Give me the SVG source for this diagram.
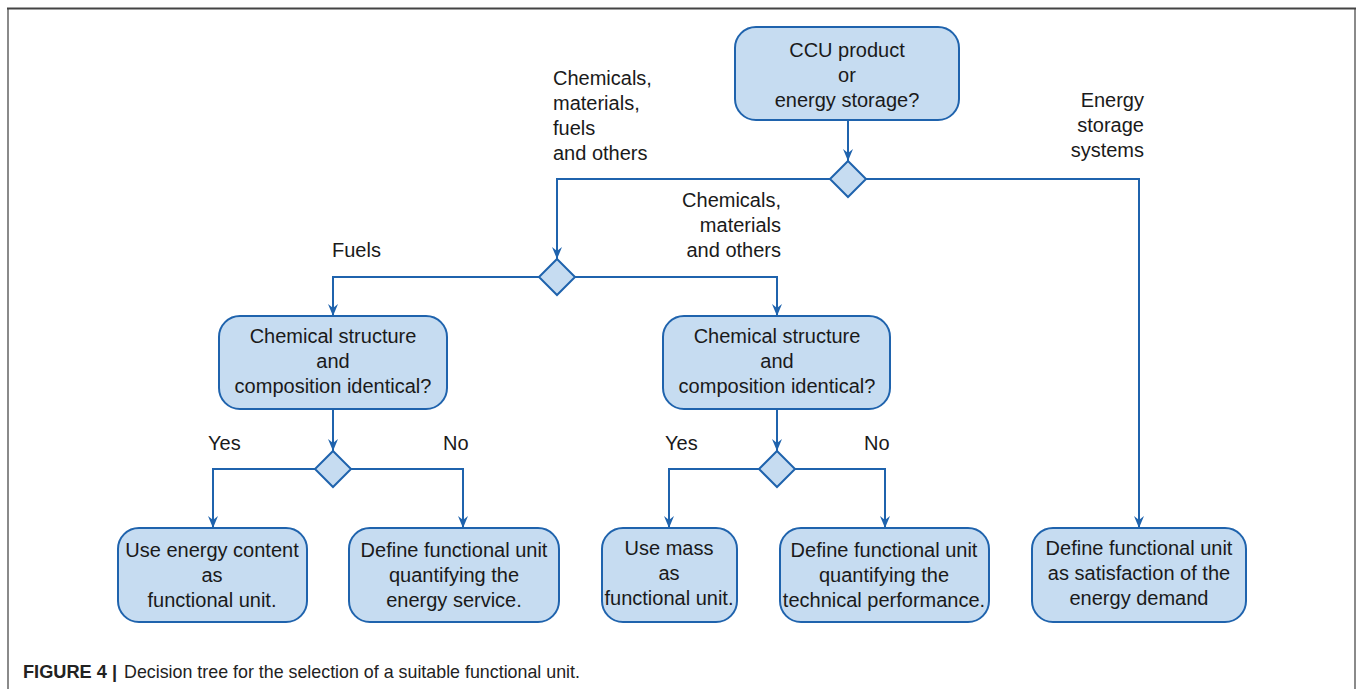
<svg xmlns="http://www.w3.org/2000/svg" width="1358" height="689" viewBox="0 0 1358 689">
<style>
.node{fill:#c6dcf1;stroke:#1f63ad;stroke-width:2}
.dia{fill:#c6dcf1;stroke:#1f63ad;stroke-width:2}
.t{font-family:"Liberation Sans",Arial,sans-serif;font-size:20px;fill:#1a1a1a;text-anchor:middle}
.l{font-family:"Liberation Sans",Arial,sans-serif;font-size:20px;fill:#1a1a1a}
.e{text-anchor:end}
.conn path{fill:none;stroke:#1f63ad;stroke-width:2;marker-end:url(#ah)}
.cap{font-family:"Liberation Sans",Arial,sans-serif;font-size:19px;fill:#222}
</style>
<defs>
<marker id="ah" viewBox="0 0 12 10" refX="12" refY="5" markerWidth="12" markerHeight="10" markerUnits="userSpaceOnUse" orient="auto">
<path d="M0,0 L12,5 L0,10 L4,5 z" fill="#1f63ad"/>
</marker>
</defs>
<rect x="0" y="0" width="1358" height="689" fill="#ffffff"/>
<g id="frame">
<line x1="8" y1="9" x2="8" y2="689" stroke="#8a8a8a" stroke-width="2"/>
<line x1="1355" y1="9" x2="1355" y2="689" stroke="#8a8a8a" stroke-width="2"/>
<line x1="7" y1="8.5" x2="1356" y2="8.5" stroke="#444" stroke-width="2"/>
</g>
<g id="connectors" class="conn">
<path d="M848,120 V161"/>
<path d="M830,179 H557 V259"/>
<path d="M866,179 H1139 V528"/>
<path d="M539,277 H333 V316"/>
<path d="M575,277 H777 V316"/>
<path d="M333,409 V451"/>
<path d="M315,469 H213 V528"/>
<path d="M351,469 H463 V528"/>
<path d="M777,409 V451"/>
<path d="M759,469 H669 V528"/>
<path d="M795,469 H885 V528"/>
</g>
<g id="labels">
<text class="l" x="553" y="85">Chemicals,</text>
<text class="l" x="553" y="110">materials,</text>
<text class="l" x="553" y="135">fuels</text>
<text class="l" x="553" y="160">and others</text>
<text class="l e" x="1144" y="107">Energy</text>
<text class="l e" x="1144" y="132">storage</text>
<text class="l e" x="1144" y="157">systems</text>
<text class="l e" x="781" y="207">Chemicals,</text>
<text class="l e" x="781" y="232">materials</text>
<text class="l e" x="781" y="257">and others</text>
<text class="l" x="332" y="257">Fuels</text>
<text class="l" x="208" y="450">Yes</text>
<text class="l" x="443" y="450">No</text>
<text class="l" x="665" y="450">Yes</text>
<text class="l" x="864" y="450">No</text>
</g>
<g id="n-top">
<rect class="node" x="735" y="27" width="224" height="93" rx="21"/>
<text class="t" x="847" y="57">CCU product</text>
<text class="t" x="847" y="82">or</text>
<text class="t" x="847" y="107">energy storage?</text>
</g>
<g id="d1"><polygon class="dia" points="848,161 866,179 848,197 830,179"/></g>
<g id="d2"><polygon class="dia" points="557,259 575,277 557,295 539,277"/></g>
<g id="n-fuels">
<rect class="node" x="219" y="316" width="228" height="93" rx="21"/>
<text class="t" x="333" y="343">Chemical structure</text>
<text class="t" x="333" y="368">and</text>
<text class="t" x="333" y="393">composition identical?</text>
</g>
<g id="n-chem">
<rect class="node" x="663" y="316" width="227" height="93" rx="21"/>
<text class="t" x="777" y="343">Chemical structure</text>
<text class="t" x="777" y="368">and</text>
<text class="t" x="777" y="393">composition identical?</text>
</g>
<g id="d3"><polygon class="dia" points="333,451 351,469 333,487 315,469"/></g>
<g id="d4"><polygon class="dia" points="777,451 795,469 777,487 759,469"/></g>
<g id="n-energy-content">
<rect class="node" x="118" y="528" width="189" height="94" rx="21"/>
<text class="t" x="212" y="557">Use energy content</text>
<text class="t" x="212" y="582">as</text>
<text class="t" x="212" y="607">functional unit.</text>
</g>
<g id="n-energy-service">
<rect class="node" x="349" y="528" width="210" height="94" rx="21"/>
<text class="t" x="454" y="557">Define functional unit</text>
<text class="t" x="454" y="582">quantifying the</text>
<text class="t" x="454" y="607">energy service.</text>
</g>
<g id="n-mass">
<rect class="node" x="602" y="528" width="135" height="94" rx="21"/>
<text class="t" x="669" y="555">Use mass</text>
<text class="t" x="669" y="580">as</text>
<text class="t" x="669" y="605">functional unit.</text>
</g>
<g id="n-technical">
<rect class="node" x="780" y="528" width="209" height="94" rx="21"/>
<text class="t" x="884" y="557">Define functional unit</text>
<text class="t" x="884" y="582">quantifying the</text>
<text class="t" x="884" y="607">technical performance.</text>
</g>
<g id="n-storage">
<rect class="node" x="1032" y="528" width="214" height="94" rx="21"/>
<text class="t" x="1139" y="555">Define functional unit</text>
<text class="t" x="1139" y="580">as satisfaction of the</text>
<text class="t" x="1139" y="605">energy demand</text>
</g>
<g id="caption">
<text class="cap" x="23" y="678"><tspan font-weight="bold" textLength="94" lengthAdjust="spacingAndGlyphs">FIGURE 4 |</tspan><tspan x="124" textLength="456" lengthAdjust="spacingAndGlyphs">Decision tree for the selection of a suitable functional unit.</tspan></text>
</g>
</svg>
